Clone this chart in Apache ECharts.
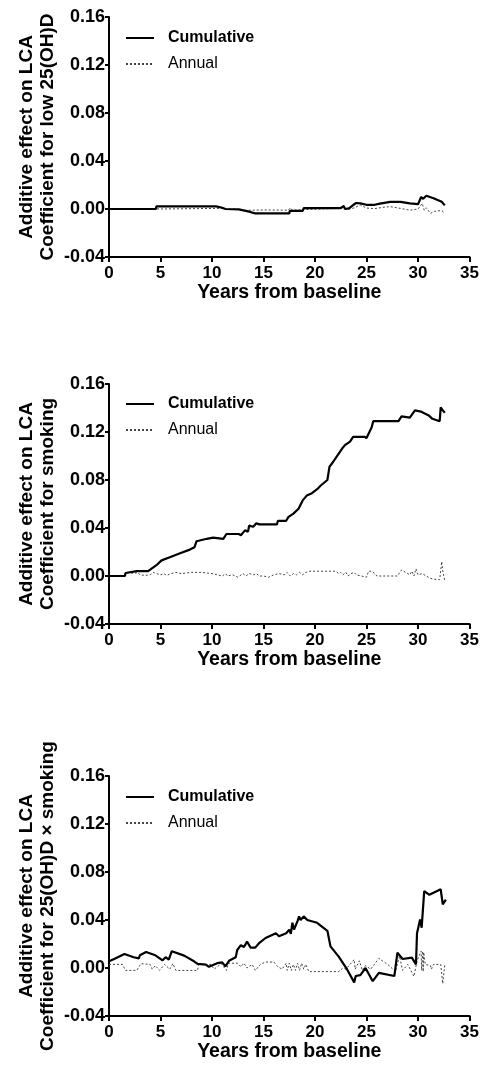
<!DOCTYPE html>
<html>
<head>
<meta charset="utf-8">
<script src="https://cdn.jsdelivr.net/npm/echarts@6/dist/echarts.min.js"></script>
<style>
html,body{margin:0;padding:0;background:#fff;}
#chart{width:482px;height:1073px;}
</style>
</head>
<body>
<div id="chart"></div>
<script>
// ---- data ----
var xTicks = [0, 5, 10, 15, 20, 25, 30, 35];
var yTicks = [-0.04, 0.00, 0.04, 0.08, 0.12, 0.16];
var seriesNames = ['Cumulative', 'Annual'];
var xTitle = 'Years from baseline';
var yTitles = [
  'Additive effect on LCA\nCoefficient for low 25(OH)D',
  'Additive effect on LCA\nCoefficient for smoking',
  'Additive effect on LCA\nCoefficient for 25(OH)D \u00d7 smoking'
];

// Panel 1: low 25(OH)D
var cum1 = [[0,0],[4.55,0],[4.6,0.0022],[10.4,0.0022],[11.0,0.001],[11.3,0],[12.6,-0.0003],[13.6,-0.0022],[14.2,-0.0037],[17.5,-0.0037],[17.55,-0.0015],[18.8,-0.0015],[18.9,0.0008],[22.5,0.0008],[22.8,0.0025],[22.9,0],[23.3,0.0005],[23.7,0.0033],[24.0,0.005],[24.4,0.0047],[25.0,0.0035],[25.8,0.0035],[26.3,0.0045],[27.3,0.006],[28.3,0.006],[29.2,0.0047],[30.0,0.004],[30.3,0.010],[30.5,0.0085],[30.8,0.011],[31.5,0.009],[32.3,0.006],[32.6,0.003]];
var ann1 = [[0,0],[4.55,0],[4.6,0.0005],[10.8,0.0005],[11.3,0],[12.4,0],[12.8,-0.0012],[15,-0.0008],[17.4,-0.001],[17.6,0.001],[17.8,-0.001],[18.8,-0.0005],[18.9,0.0005],[22.5,0.0005],[22.8,0.002],[22.9,0],[23.3,0],[23.7,0.0006],[24.4,0.0033],[25.0,0.0008],[25.8,0.0003],[26.6,0.0014],[27.3,0.002],[28.3,0.0005],[29.2,-0.001],[30.0,0],[30.4,0.0047],[30.6,-0.001],[30.8,0.001],[31.2,-0.0036],[31.6,-0.002],[32.3,-0.0012],[32.6,-0.0036]];

// Panel 2: smoking
var cum2 = [[0,0],[1.55,0],[1.6,0.0025],[2.7,0.004],[3.8,0.004],[4.6,0.009],[5.1,0.013],[5.9,0.0156],[6.9,0.019],[7.85,0.022],[8.3,0.024],[8.5,0.029],[9.5,0.031],[10.1,0.032],[11.1,0.031],[11.4,0.035],[12.6,0.035],[12.8,0.034],[13.2,0.038],[13.5,0.037],[13.6,0.042],[14.0,0.041],[14.3,0.044],[14.6,0.043],[16.3,0.043],[16.4,0.046],[17.2,0.046],[17.4,0.049],[17.9,0.052],[18.4,0.056],[18.8,0.063],[19.2,0.067],[19.7,0.069],[20.3,0.073],[20.5,0.075],[21.2,0.080],[21.4,0.091],[21.75,0.095],[22.1,0.0995],[22.7,0.107],[22.9,0.109],[23.4,0.112],[23.7,0.116],[24.8,0.116],[25.0,0.115],[25.5,0.124],[25.65,0.129],[28.1,0.129],[28.4,0.133],[29.2,0.132],[29.7,0.138],[30.3,0.137],[30.5,0.136],[31.0,0.134],[31.4,0.131],[32.1,0.129],[32.2,0.1405],[32.4,0.138],[32.6,0.136]];
var ann2 = [[0,0],[1.5,0],[1.6,0.002],[2.0,0.003],[2.4,0.002],[2.8,0.003],[3.0,0.001],[3.5,0.0005],[4.0,0.001],[4.3,0.003],[4.6,0.002],[5.0,0.001],[5.3,0.002],[5.6,0.0005],[6.0,0.002],[6.5,0.003],[7.0,0.002],[8.0,0.003],[9.0,0.003],[10.0,0.002],[10.5,0.001],[11.0,0],[11.3,0.002],[11.5,0],[12.0,0.001],[12.5,-0.001],[13.0,0.002],[13.3,0],[13.6,0.002],[14,0.001],[14.3,0.002],[14.6,0],[15,0],[15.5,-0.001],[16,0.001],[16.5,0.002],[17,0.001],[17.3,0.003],[17.6,0],[17.9,0.002],[18.2,0.001],[18.5,0.003],[18.8,0.001],[19.1,0.003],[19.5,0.004],[20,0.004],[21,0.004],[22,0.004],[22.3,0.002],[22.5,0.003],[22.7,0.001],[23.0,0.003],[23.2,0],[23.5,0.002],[23.8,0.003],[24,0.001],[24.5,0],[25,-0.001],[25.2,0.004],[25.5,0.004],[25.8,0.002],[26,0],[27,0],[28,0],[28.4,0.005],[28.8,0.003],[29.2,0.001],[29.4,0.004],[29.6,0],[29.8,0.006],[30.0,0.001],[30.4,0.002],[30.8,0],[31.2,-0.002],[31.8,-0.003],[32.1,-0.003],[32.3,0.012],[32.4,0.004],[32.6,-0.004]];

// Panel 3: 25(OH)D x smoking
var cum3 = [[0,0.0056],[0.5,0.0075],[1.5,0.0117],[1.6,0.0105],[2.4,0.009],[2.9,0.008],[3.0,0.0106],[3.6,0.0134],[3.7,0.0145],[4.5,0.0106],[5.2,0.0064],[5.5,0.009],[5.8,0.007],[6.1,0.014],[7.3,0.0103],[8.25,0.0056],[8.6,0.0034],[9.4,0.0028],[9.7,0.001],[10.5,0.004],[11.0,0.0047],[11.3,0.0014],[11.65,0.006],[12.3,0.009],[12.45,0.015],[12.8,0.019],[13.1,0.0175],[13.4,0.022],[13.75,0.017],[14.2,0.017],[14.6,0.021],[15.2,0.025],[16.2,0.029],[16.5,0.0265],[17.2,0.029],[17.5,0.032],[17.65,0.0285],[17.8,0.0377],[17.96,0.032],[18.3,0.039],[18.45,0.043],[18.6,0.040],[18.9,0.043],[19.25,0.040],[20.2,0.0377],[21.2,0.031],[21.5,0.018],[22.3,0.0095],[23.1,-0.001],[23.8,-0.012],[23.95,-0.0067],[24.4,-0.006],[24.9,0],[25.6,-0.011],[26.2,-0.004],[27.7,-0.0067],[28.0,0.0128],[28.5,0.0075],[29.4,0.0086],[29.8,0.003],[29.9,0.029],[30.2,0.0405],[30.35,0.0336],[30.6,0.064],[31.1,0.061],[32.2,0.0656],[32.4,0.053],[32.7,0.057]];
var ann3 = [[0,0.003],[1.3,0.003],[1.6,-0.002],[2.7,-0.002],[3.1,0.0036],[4.0,0.003],[4.2,-0.001],[4.5,0.002],[4.9,-0.002],[5.4,0.003],[5.9,-0.001],[6.2,0.0036],[6.5,-0.002],[8.6,-0.002],[8.7,0.003],[9.9,0.003],[10.2,-0.001],[10.9,0.0036],[11.4,-0.002],[11.6,0.004],[12.5,0.004],[12.8,0.001],[13.1,0.004],[13.4,0],[13.9,0.003],[14.2,-0.002],[14.7,0.003],[15.2,0.005],[16.0,0.005],[16.4,0.001],[16.8,-0.001],[17.2,0.004],[17.3,-0.002],[17.5,0.004],[17.7,-0.002],[17.9,0.003],[18.1,-0.002],[18.3,0.004],[18.5,-0.002],[18.7,0.004],[18.9,-0.001],[19.1,0.003],[19.4,-0.003],[22.3,-0.003],[22.7,0],[23.0,-0.001],[23.8,0.007],[23.9,-0.001],[24.3,0.006],[24.6,-0.002],[24.9,0.002],[25.4,-0.001],[26.2,0.008],[27.2,0.002],[27.8,-0.003],[28.2,0.01],[28.5,-0.002],[29.0,0.003],[29.6,-0.007],[29.9,0.006],[30.3,0.014],[30.35,-0.002],[30.45,0.014],[30.5,-0.003],[30.55,0.013],[30.7,0.003],[31.2,0.002],[31.3,-0.001],[31.5,0.003],[32.2,0.003],[32.4,-0.013],[32.6,0.003]];

var panels = [[cum1, ann1], [cum2, ann2], [cum3, ann3]];

// ---- layout ----
var FONT = '"Liberation Sans", Arial, sans-serif';
var gridTops = [17, 384, 776];
var legendTops = [25, 391, 784];
var GRID_LEFT = 109, GRID_W = 362, GRID_H = 240;

var option = {
  animation: false,
  backgroundColor: '#ffffff',
  textStyle: { fontFamily: FONT, color: '#000' },
  grid: [], xAxis: [], yAxis: [], legend: [], series: []
};

for (var i = 0; i < 3; i++) {
  option.grid.push({ left: GRID_LEFT, top: gridTops[i], width: GRID_W, height: GRID_H, containLabel: false });
  option.xAxis.push({
    type: 'value', gridIndex: i, min: xTicks[0], max: xTicks[xTicks.length - 1], interval: 5,
    name: xTitle, nameLocation: 'middle', nameGap: 26, nameMoveOverlap: false,
    nameTextStyle: { fontFamily: FONT, fontSize: 19.5, fontWeight: 'bold', color: '#000' },
    axisLine: { onZero: false, lineStyle: { color: '#000', width: 2 } },
    axisTick: { show: true, length: 5, lineStyle: { color: '#000', width: 2 } },
    axisLabel: { margin: 8, fontFamily: FONT, fontSize: 17, fontWeight: 'bold', color: '#000' },
    splitLine: { show: false }
  });
  option.yAxis.push({
    type: 'value', gridIndex: i, min: yTicks[0], max: yTicks[yTicks.length - 1], interval: 0.04,
    name: yTitles[i], nameLocation: 'middle', nameGap: 51, nameRotate: 90, nameMoveOverlap: false,
    nameTextStyle: { fontFamily: FONT, fontSize: 19, fontWeight: 'bold', color: '#000', lineHeight: 21 },
    axisLine: { onZero: false, lineStyle: { color: '#000', width: 2 } },
    axisTick: { show: true, length: 4, lineStyle: { color: '#000', width: 2 } },
    axisLabel: { margin: 4, fontFamily: FONT, fontSize: 18, fontWeight: 'bold', color: '#000',
      formatter: function (v) { return v.toFixed(2); } },
    splitLine: { show: false }
  });
  option.legend.push({
    orient: 'vertical', left: 120, top: legendTops[i], itemWidth: 28, itemHeight: 14, itemGap: 10,
    selectedMode: false,
    itemStyle: { opacity: 0 },
    data: [
      { name: seriesNames[0], textStyle: { fontWeight: 'bold', fontSize: 16, fontFamily: FONT, color: '#000', padding: [0, 0, 0, 9] } },
      { name: seriesNames[1], textStyle: { fontWeight: 'normal', fontSize: 16, fontFamily: FONT, color: '#000', padding: [0, 0, 0, 9] } }
    ]
  });
  option.series.push({
    name: seriesNames[0], type: 'line', xAxisIndex: i, yAxisIndex: i, data: panels[i][0],
    symbol: 'none', lineStyle: { color: '#000', width: 2.2, type: 'solid' }, itemStyle: { color: '#000' }, z: 3
  });
  option.series.push({
    name: seriesNames[1], type: 'line', xAxisIndex: i, yAxisIndex: i, data: panels[i][1],
    symbol: 'none', lineStyle: { color: '#444', width: 1, type: [2, 2] }, itemStyle: { color: '#444' }, z: 2
  });
}

var chart = echarts.init(document.getElementById('chart'), null, { renderer: 'canvas', width: 482, height: 1073 });
chart.setOption(option);
</script>
</body>
</html>
